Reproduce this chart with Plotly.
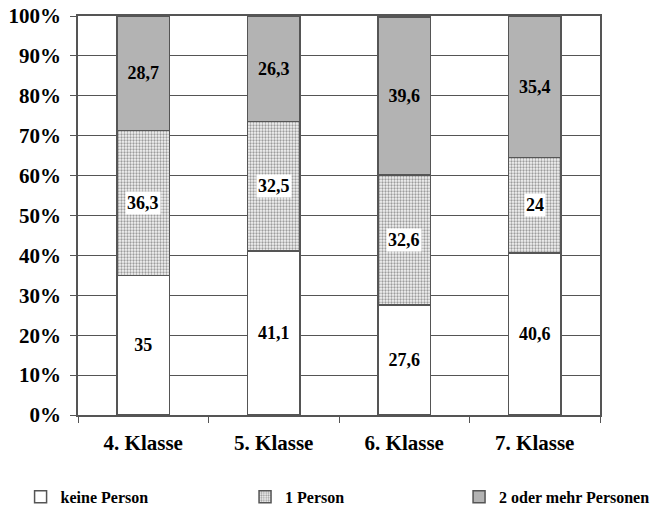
import plotly.graph_objects as go

categories = ["4. Klasse", "5. Klasse", "6. Klasse", "7. Klasse"]
keine = [35, 41.1, 27.6, 40.6]
eine = [36.3, 32.5, 32.6, 24]
mehr = [28.7, 26.3, 39.6, 35.4]

def de(v):
    return f"{v:g}".replace(".", ",")

FONT = "Liberation Serif"
LINE = dict(color="#555555", width=1.5)
LBL = dict(family=FONT, size=18, color="black", weight="bold")

fig = go.Figure()
fig.add_bar(name="keine Person", x=categories, y=keine,
            marker=dict(color="white", line=LINE),
            text=[de(v) for v in keine], textposition="inside",
            insidetextanchor="middle", textfont=LBL, legend="legend")
fig.add_bar(name="1 Person", x=categories, y=eine,
            marker=dict(color="white", line=LINE,
                        pattern=dict(shape=".", fgcolor="#444444", bgcolor="#f4f4f4",
                                     size=3, solidity=0.45)),
            legend="legend2")
fig.add_bar(name="2 oder mehr Personen", x=categories, y=mehr,
            marker=dict(color="#b3b3b3", line=LINE),
            text=[de(v) for v in mehr], textposition="inside",
            insidetextanchor="middle", textfont=LBL, legend="legend3")

for c, k, e in zip(categories, keine, eine):
    fig.add_annotation(x=c, y=k + e / 2, text=de(e), showarrow=False,
                       bgcolor="white", borderpad=1, font=LBL)

LEG = dict(orientation="h", y=-0.205, yanchor="middle", xanchor="left",
           font=dict(family=FONT, size=16, color="black", weight="bold"),
           itemwidth=30, bgcolor="rgba(0,0,0,0)")

fig.update_layout(
    barmode="stack",
    bargap=0.6,
    width=668, height=509,
    margin=dict(l=78, r=68, t=16, b=94, autoexpand=False),
    plot_bgcolor="white", paper_bgcolor="white",
    showlegend=True,
    legend=dict(LEG, x=-0.11),
    legend2=dict(LEG, x=0.32),
    legend3=dict(LEG, x=0.73),
    font=dict(family=FONT, color="black"),
)
fig.update_yaxes(range=[0, 100], tickvals=list(range(0, 101, 10)),
                 ticktext=[f"{v}%" for v in range(0, 101, 10)],
                 showgrid=True, gridcolor="#555555", gridwidth=1,
                 showline=True, linecolor="#555555", linewidth=1.5, mirror=True,
                 ticks="outside", ticklen=6, tickcolor="#555555",
                 tickfont=dict(family=FONT, size=21, color="black", weight="bold"),
                 ticklabelstandoff=5,
                 zeroline=False, automargin=False, ticklabeloverflow="allow")
fig.update_xaxes(showline=True, linecolor="#555555", linewidth=1.5, mirror=True,
                 ticks="outside", tickson="boundaries", ticklen=6, tickcolor="#555555",
                 tickfont=dict(family=FONT, size=21, color="black", weight="bold"),
                 ticklabelstandoff=8,
                 automargin=False)

fig.write_html("out.html", config={"displayModeBar": False},
               post_script="document.body.style.margin='0';document.body.style.padding='0';")
